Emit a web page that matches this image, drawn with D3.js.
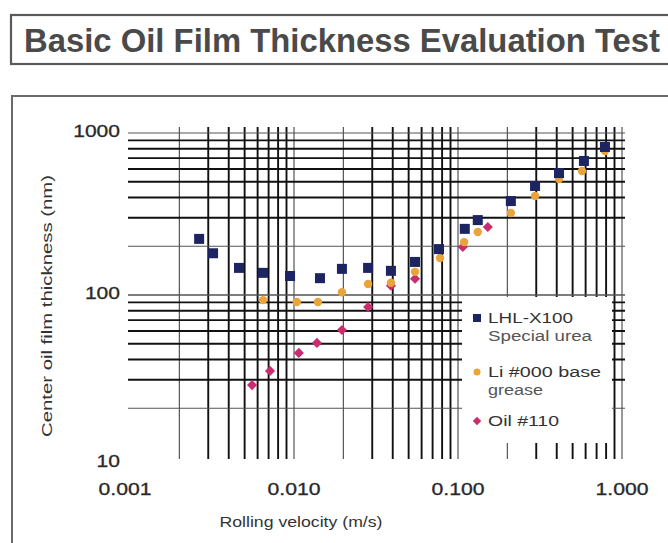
<!DOCTYPE html>
<meta charset="utf-8" />
<script src="https://d3js.org/d3.v7.min.js"></script>
<style>
  body { margin: 0; background: #fff; }
  text { font-family: "Liberation Sans", Arial, Helvetica, sans-serif; }
</style>
<div id="chart"></div>
<script>
// data (velocity m/s, thickness nm)
var lhlX = [0.00264, 0.00321, 0.00462, 0.00647, 0.00946, 0.0144, 0.0196, 0.0283, 0.039, 0.0547, 0.0766, 0.11, 0.132, 0.21, 0.295, 0.413, 0.586, 0.787];
var lhlY = [222, 181, 147, 137, 131, 127, 145, 147, 141, 160, 192, 256, 290, 380, 471, 566, 672, 820];

var liX = [0.00647, 0.0104, 0.014, 0.0196, 0.0283, 0.039, 0.0547, 0.0777, 0.109, 0.132, 0.21, 0.295, 0.413, 0.57, 0.787];
var liY = [93, 90.6, 90.6, 104, 117, 119, 139, 169, 212, 245, 321, 408, 520, 583, 774];

var oilX = [0.00555, 0.00714, 0.0107, 0.0138, 0.0196, 0.0283, 0.039, 0.0547, 0.107, 0.152];
var oilY = [27.8, 34, 43.9, 50.6, 60.8, 84.3, 114, 126, 198, 263];

var xTicks = [0.001, 0.01, 0.1, 1];
var xTickLabels = ["0.001", "0.010", "0.100", "1.000"];
var yTicks = [1000, 100, 10];
var yTickLabels = ["1000", "100", "10"];

var legendLabels = [["LHL-X100", "Special urea"], ["Li #000 base", "grease"], ["Oil #110"]];

var W = 668, H = 543;
var svg = d3.select("#chart").append("svg")
  .attr("width", W).attr("height", H);

// boxes
svg.append("rect").attr("x", 11).attr("y", 15).attr("width", 700).attr("height", 49)
  .attr("fill", "none").attr("stroke", "#5a5a5a").attr("stroke-width", 2.2);
svg.append("text").attr("x", 24).attr("y", 52)
  .attr("font-size", 33).attr("font-weight", "bold").attr("fill", "#4a4a4a")
  .attr("textLength", 636).attr("lengthAdjust", "spacingAndGlyphs")
  .text("Basic Oil Film Thickness Evaluation Test");
svg.append("rect").attr("x", 12).attr("y", 96).attr("width", 700).attr("height", 500)
  .attr("fill", "none").attr("stroke", "#6a6a6a").attr("stroke-width", 2);

var x = d3.scaleLog().domain([0.001, 1]).range([130, 622]);
var y = d3.scaleLog().domain([10, 1000]).range([457, 133]);

// grid lines
var vLines = [];
[0.001, 0.01, 0.1].forEach(function (d) {
  for (var k = 2; k <= 10; k++) vLines.push(d * k);
});
var hLines = [];
[10, 100].forEach(function (d) {
  for (var k = (d === 10 ? 2 : 1); k <= 10; k++) hLines.push(d * k);
});
function thin(v) {
  var m = v / Math.pow(10, Math.floor(Math.log10(v) + 1e-9));
  return Math.abs(m - 1) < 0.01 || Math.abs(m - 2) < 0.01;
}

var grid = svg.append("g");
grid.selectAll(".v").data(vLines).join("line")
  .attr("x1", d => x(d)).attr("x2", d => x(d))
  .attr("y1", 127).attr("y2", 459)
  .attr("stroke", d => thin(d) ? "#555" : "#111")
  .attr("stroke-width", d => thin(d) ? 1.2 : 1.9);
grid.selectAll(".h").data(hLines).join("line")
  .attr("x1", 128).attr("x2", 625)
  .attr("y1", d => y(d)).attr("y2", d => y(d))
  .attr("stroke", d => thin(d) ? "#555" : "#111")
  .attr("stroke-width", d => thin(d) ? 1.2 : 1.9);

// legend box covers the grid
svg.append("rect").attr("x", 462).attr("y", 297).attr("width", 150).attr("height", 146)
  .attr("fill", "#fff");

// tick labels
svg.selectAll(".yt").data(yTicks).join("text")
  .attr("x", 120).attr("y", (d, i) => y(d) + (d === 10 ? 10 : 4))
  .attr("text-anchor", "end").attr("font-size", 17).attr("fill", "#2a2a2a")
  .attr("stroke", "#2a2a2a").attr("stroke-width", 0.3)
  .attr("textLength", (d, i) => yTickLabels[i].length * 11.7)
  .attr("lengthAdjust", "spacingAndGlyphs")
  .text((d, i) => yTickLabels[i]);
svg.selectAll(".xt").data(xTicks).join("text")
  .attr("x", d => x(d) - (d === 0.001 ? 5 : 0)).attr("y", 495)
  .attr("text-anchor", "middle").attr("font-size", 17).attr("fill", "#2a2a2a")
  .attr("stroke", "#2a2a2a").attr("stroke-width", 0.3)
  .attr("textLength", 53).attr("lengthAdjust", "spacingAndGlyphs")
  .text((d, i) => xTickLabels[i]);

// axis titles
svg.append("text").attr("x", 301).attr("y", 527)
  .attr("text-anchor", "middle").attr("font-size", 14).attr("fill", "#333")
  .attr("textLength", 163).attr("lengthAdjust", "spacingAndGlyphs")
  .text("Rolling velocity (m/s)");
svg.append("text").attr("transform", "translate(52,306) rotate(-90)")
  .attr("text-anchor", "middle").attr("font-size", 14).attr("fill", "#333")
  .attr("textLength", 262).attr("lengthAdjust", "spacingAndGlyphs")
  .text("Center oil film thickness (nm)");

// series
var navy = "#1c2462", gold = "#e9a43c", pink = "#c92c6f";

svg.append("g").selectAll("rect").data(oilX).join("rect")
  .attr("x", -3.6).attr("y", -3.6).attr("width", 7.2).attr("height", 7.2)
  .attr("transform", (d, i) => "translate(" + x(d) + "," + y(oilY[i]) + ") rotate(45)")
  .attr("fill", pink);
svg.append("g").selectAll("circle").data(liX).join("circle")
  .attr("cx", d => x(d)).attr("cy", (d, i) => y(liY[i])).attr("r", 4.2)
  .attr("fill", gold);
svg.append("g").selectAll("rect").data(lhlX).join("rect")
  .attr("x", d => x(d) - 5).attr("y", (d, i) => y(lhlY[i]) - 5)
  .attr("width", 10).attr("height", 10)
  .attr("fill", navy);

// legend
var lg = svg.append("g").attr("transform", "translate(477,0)");
var rowY = [318, 372, 421];
var widths = [[85, 104], [113, 55], [71]];
lg.append("rect").attr("x", -4).attr("y", rowY[0] - 4).attr("width", 8).attr("height", 8).attr("fill", navy);
lg.append("circle").attr("cx", 0).attr("cy", rowY[1]).attr("r", 3.5).attr("fill", gold);
lg.append("rect").attr("x", -3).attr("y", -3).attr("width", 6).attr("height", 6)
  .attr("transform", "translate(0," + rowY[2] + ") rotate(45)").attr("fill", pink);
legendLabels.forEach(function (lines, i) {
  lines.forEach(function (t, j) {
    lg.append("text").attr("x", 11).attr("y", rowY[i] + 5 + j * 18)
      .attr("font-size", 14).attr("fill", j === 0 ? "#333" : "#555")
      .attr("textLength", widths[i][j]).attr("lengthAdjust", "spacingAndGlyphs")
      .text(t);
  });
});
</script>
